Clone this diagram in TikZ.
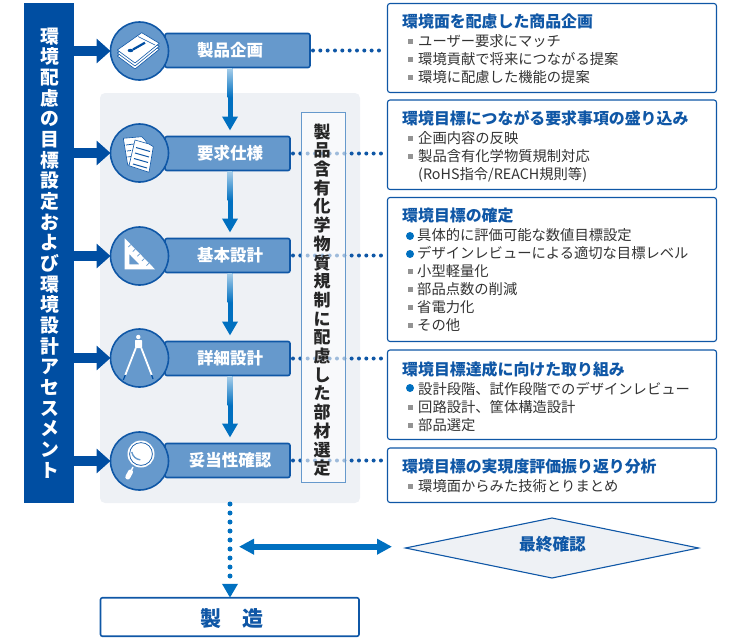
\documentclass[tikz,border=0pt]{standalone}
\usepackage{fontspec}
\setmainfont{Noto Sans CJK JP}
\usetikzlibrary{arrows.meta,calc,shapes.geometric}
\definecolor{navy}{HTML}{004EA2}
\definecolor{edgeblue}{HTML}{0F57A6}
\definecolor{midblue}{HTML}{6699CC}
\definecolor{flowblue}{HTML}{0070C0}
\definecolor{panelgray}{HTML}{EEF1F5}
\definecolor{bodytext}{HTML}{333333}
\tikzset{
  barbox/.style={draw=edgeblue,line width=1.6pt,fill=midblue,rounded corners=2pt,inner sep=0pt,outer sep=0pt},
  iconcirc/.style={circle,draw=edgeblue,line width=1.6pt,fill=midblue,minimum size=58pt,inner sep=0pt,outer sep=0pt},
  barlabel/.style={text=white,font=\fontsize{16.5}{16.5}\selectfont\bfseries,anchor=base,inner sep=0pt},
  infobox/.style={draw=edgeblue,line width=1.1pt,fill=white,rounded corners=2.5pt,minimum width=329pt,inner sep=0pt,outer sep=0pt},
  infotitle/.style={text=edgeblue,font=\fontsize{15.9}{16}\selectfont\bfseries,anchor=base west,inner sep=0pt},
  infoline/.style={text=bodytext,font=\fontsize{14.3}{14.3}\selectfont,anchor=base west,inner sep=0pt},
  sqbullet/.style={fill=gray!85,minimum size=5pt,inner sep=0pt},
  dotbullet/.style={circle,fill=flowblue,minimum size=8pt,inner sep=0pt},
  enterarrow/.style={draw=navy,line width=10pt,-{Triangle[width=24pt,length=14pt]}},
  flowarrow/.style={draw=flowblue,line width=5pt,-{Triangle[width=15pt,length=14pt]}},
  dottie/.style={draw=edgeblue,line width=4pt,dash pattern=on 0pt off 7.33pt,line cap=round},
  iconsheet/.style={fill=white,draw=edgeblue,line width=.6pt,line join=round},
  iconink/.style={draw=edgeblue,line width=1pt},
}
\newcommand{\flowarr}[4]{%
  \draw[flowarrow,shorten >=6pt] (#1 |- #2.south) -- (#3 |- #4.north);
  \shade[top color=flowblue!35!white,bottom color=flowblue]
    ($(#1 |- #2.south)+(-2.5,.9)$) rectangle ($(#1 |- #2.south)+(2.5,30)$);}
\begin{document}
\begin{tikzpicture}[x=1pt,y=-1pt]
\useasboundingbox (0,0) rectangle (750,640);
% panel
\node[fill=panelgray,rounded corners=5pt,minimum width=260pt,minimum height=410pt,inner sep=0pt,outer sep=0pt] (panel) at (230,298) {};
% left bar
\node[fill=navy,minimum width=50pt,minimum height=500pt,inner sep=0pt,outer sep=0pt] (leftbar) at (49,253) {};
\node[text=white,inner sep=0pt,align=center,font=\fontsize{18.8}{20.67}\selectfont\bfseries] (lefttext) at (50,253) {環\\境\\配\\慮\\の\\目\\標\\設\\定\\お\\よ\\び\\環\\境\\設\\計\\ア\\セ\\ス\\メ\\ン\\ト};
% bars
\node[barbox,minimum width=145pt,minimum height=34pt] (bar1) at (237.5,50.5) {};
\node[barbox,minimum width=125pt,minimum height=34pt] (bar2) at (227.5,153.5) {};
\node[barbox,minimum width=125pt,minimum height=34pt] (bar3) at (227.5,255.5) {};
\node[barbox,minimum width=125pt,minimum height=34pt] (bar4) at (227.5,358.5) {};
\node[barbox,minimum width=125pt,minimum height=34pt] (bar5) at (227.5,460.5) {};
\node[barlabel] (lab1) at (230,56.3) {製品企画};
\node[barlabel] (lab2) at (230,159.3) {要求仕様};
\node[barlabel] (lab3) at (230,261.3) {基本設計};
\node[barlabel] (lab4) at (230,364.3) {詳細設計};
\node[barlabel] (lab5) at (230,466.3) {妥当性確認};
% circles
\node[iconcirc] (c1) at (139.5,51) {};
\node[iconcirc] (c2) at (139.5,153) {};
\node[iconcirc] (c3) at (139.5,256) {};
\node[iconcirc] (c4) at (139.5,358) {};
\node[iconcirc] (c5) at (139.5,461) {};
% entering arrows
\foreach \i in {1,...,5}{\draw[enterarrow] (leftbar.east |- c\i.west) -- (c\i.west);}
% icon 1: stack of sheets
\foreach \d in {6,3,0}{
  \draw[iconsheet,shift={(0,\d)}] (141.7,32.7) -- (159.3,43.3) -- (135,63) -- (117.3,50) -- cycle;}
\draw[edgeblue,line width=.5pt] (138,36.5) -- (155,45);
\draw[navy,line width=2.2pt] (133,49.5) -- (145,42.7);
\fill[navy] (130.5,50.5) ellipse (2.8 and 1.7);
% icon 2: two sheets
\draw[iconsheet] (123.3,138.3) -- (141.7,136.7) -- (146,141) -- (147,162) -- (127.7,165) -- cycle;
\draw[iconink,line width=.7pt] (126,145) -- (134,144) (127,151) -- (131,150.5) (127.5,157) -- (131,156.5);
\draw[iconsheet] (135,140) -- (149,144) -- (153.3,146.7) -- (149,172.3) -- (129,165.7) -- cycle;
\draw[iconink] (136,147.5) -- (150,151.5) (135,153) -- (149,157) (134,158.5) -- (148,162.5) (133,164) -- (147,168);
% icon 3: set square
\fill[white,even odd rule] (124.7,238.3) -- (155,269.3) -- (124.7,269.3) -- cycle
  (129.3,254) -- (139.3,264.3) -- (129.3,264.3) -- cycle;
\foreach \t in {0.2,0.35,...,0.9}{
  \draw[midblue,line width=.7pt] ($(124.7,238.3)!\t!(155,269.3)$) -- +(-2.5,2.5);}
% icon 4: compass
\fill[white] (138.3,337) circle (2.2);
\fill[white,rounded corners=.6pt] (135,340) rectangle (142,348);
\draw[white,line width=1.8pt] (135.8,348) -- (125.3,375);
\draw[white,line width=1.8pt] (141.3,348) -- (151.7,375);
\draw[navy,line width=1.2pt] (125.3,375) -- (123.3,380);
\draw[navy,line width=1.2pt] (151.7,375) -- (153,379);
% icon 5: magnifier
\fill[white] (141,454) circle (13.5);
\draw[edgeblue,line width=.7pt] (141,454) circle (11.4);
\draw[midblue,line width=1.4pt] (131.8,452) arc (170:95:9.5);
\draw[white,line width=1.4pt] (133,467) -- (131,471);
\draw[white,line width=5pt,line cap=round] (130.5,472) -- (127.8,477);
% info boxes
\node[infobox,minimum height=89pt] (b1) at (552,48) {};
\node[infobox,minimum height=89.5pt] (b2) at (552,144.75) {};
\node[infobox,minimum height=144pt] (b3) at (552,269.5) {};
\node[infobox,minimum height=89.5pt] (b4) at (552,394.75) {};
\node[infobox,minimum height=54.5pt] (b5) at (552,475.25) {};
\node[infotitle] (t1) at (402,27) {環境面を配慮した商品企画};
\node[sqbullet] (s11) at (410,41) {}; \node[infoline] (l11) at (418,46.4) {ユーザー要求にマッチ};
\node[sqbullet] (s12) at (410,59) {}; \node[infoline] (l12) at (418,64.4) {環境貢献で将来につながる提案};
\node[sqbullet] (s13) at (410,77) {}; \node[infoline] (l13) at (418,82.4) {環境に配慮した機能の提案};
\node[infotitle] (t2) at (402,124) {環境目標につながる要求事項の盛り込み};
\node[sqbullet] (s21) at (410,138) {}; \node[infoline] (l21) at (418,143.4) {企画内容の反映};
\node[sqbullet] (s22) at (410,156) {}; \node[infoline] (l22) at (418,161.4) {製品含有化学物質規制対応};
\node[infoline] (l23) at (418,179.4) {(RoHS指令/REACH規則等)};
\node[infotitle] (t3) at (402,221) {環境目標の確定};
\node[dotbullet] (s31) at (410,236) {}; \node[infoline] (l31) at (417,240.4) {具体的に評価可能な数値目標設定};
\node[dotbullet] (s32) at (410,254) {}; \node[infoline] (l32) at (417,258.4) {デザインレビューによる適切な目標レベル};
\node[sqbullet] (s33) at (410,271) {}; \node[infoline] (l33) at (417,276.4) {小型軽量化};
\node[sqbullet] (s34) at (410,289) {}; \node[infoline] (l34) at (417,294.4) {部品点数の削減};
\node[sqbullet] (s35) at (410,307) {}; \node[infoline] (l35) at (417,312.4) {省電力化};
\node[sqbullet] (s36) at (410,325) {}; \node[infoline] (l36) at (417,330.4) {その他};
\node[infotitle] (t4) at (402,375) {環境目標達成に向けた取り組み};
\node[dotbullet] (s41) at (410,388) {}; \node[infoline] (l41) at (418,394.4) {設計段階、試作段階でのデザインレビュー};
\node[sqbullet] (s42) at (410,407) {}; \node[infoline] (l42) at (418,412.4) {回路設計、筐体構造設計};
\node[sqbullet] (s43) at (410,425) {}; \node[infoline] (l43) at (418,430.4) {部品選定};
\node[infotitle] (t5) at (402,472) {環境目標の実現度評価振り返り分析};
\node[sqbullet] (s51) at (410,486) {}; \node[infoline] (l51) at (418,491.4) {環境面からみた技術とりまとめ};
% dotted leaders
\foreach \i in {1,...,5}{\draw[dottie,shorten <=3pt,shorten >=3pt] (bar\i.east) -- (b\i.west |- bar\i.east);}
% vertical box over leaders
\node[draw=midblue,line width=1pt,fill=white,fill opacity=.6,draw opacity=1,minimum width=44pt,minimum height=370pt,inner sep=0pt,outer sep=0pt] (vbox) at (323.7,297) {};
\node[text=black!85,inner sep=0pt,align=center,font=\fontsize{17}{18.7}\selectfont\bfseries] (vtext) at (322,300) {製\\品\\含\\有\\化\\学\\物\\質\\規\\制\\に\\配\\慮\\し\\た\\部\\材\\選\\定};
% flow arrows
\flowarr{lab1}{bar1}{lab2}{bar2}
\flowarr{lab2}{bar2}{lab3}{bar3}
\flowarr{lab3}{bar3}{lab4}{bar4}
\flowarr{lab4}{bar4}{lab5}{bar5}
% bottom
\node[draw=edgeblue,line width=1.6pt,fill=white,rounded corners=2pt,minimum width=258.5pt,minimum height=38.5pt,inner sep=0pt,outer sep=0pt] (maker) at (229.75,617) {};
\node[text=edgeblue,inner sep=0pt,font=\fontsize{21}{21}\selectfont\bfseries,anchor=base] (makertext) at (231.5,626) {製\hspace{1em}造};
\node[diamond,aspect=4.84,draw=edgeblue,line width=1.1pt,fill=panelgray,minimum width=293pt,minimum height=60pt,inner sep=0pt,outer sep=0pt] (final) at (552,548) {};
\node[text=edgeblue,inner sep=0pt,font=\fontsize{16.7}{16.7}\selectfont\bfseries,anchor=base] (finaltext) at (552.5,550) {最終確認};
\draw[draw=flowblue,line width=5pt,dash pattern=on 0pt off 9pt,line cap=round,-{Triangle[width=15pt,length=14pt]}] ($(lab5 |- panel.south)+(0,1)$) -- (lab5 |- maker.north);
\coordinate (dblstart) at (239,546.7);
\draw[draw=flowblue,line width=6pt,{Triangle[width=15pt,length=15pt]}-{Triangle[width=15pt,length=15pt]},shorten >=13.5pt] (dblstart) -- (final.west |- dblstart);
\end{tikzpicture}
\end{document}
